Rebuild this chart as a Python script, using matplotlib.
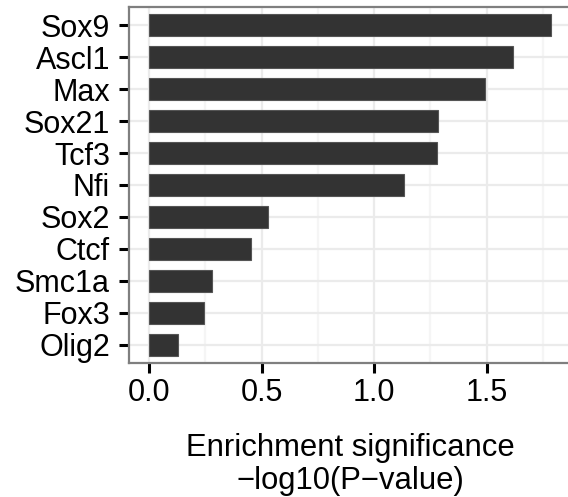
import matplotlib
matplotlib.use("Agg")
import matplotlib.pyplot as plt
import numpy as np

# motif names, top to bottom
motifs = ["Sox9", "Ascl1", "Max", "Sox21", "Tcf3", "Nfi",
          "Sox2", "Ctcf", "Smc1a", "Fox3", "Olig2"]
neg_log10_p = [1.785, 1.616, 1.492, 1.284, 1.281, 1.133,
               0.529, 0.454, 0.281, 0.245, 0.130]
x_ticks = [0.0, 0.5, 1.0, 1.5]
x_minor = [0.25, 0.75, 1.25, 1.75]

plt.rcParams["font.family"] = ["Liberation Sans", "DejaVu Sans"]

W, H = 568, 497
fig = plt.figure(figsize=(W / 100, H / 100), dpi=100)

# panel edges in pixels (right edge runs past the figure like the original)
left_px, right_px, top_px, bottom_px = 129, 571, 6.7, 363.3
ax = fig.add_axes([left_px / W, 1 - bottom_px / H,
                   (right_px - left_px) / W, (bottom_px - top_px) / H])

n = len(motifs)
ypos = np.arange(n)[::-1] + 1  # Sox9 on top

grid_major = "#EBEBEB"
grid_minor = "#F5F5F5"
for x in x_minor:
    ax.axvline(x, color=grid_minor, lw=1.6, zorder=0)
for x in x_ticks:
    ax.axvline(x, color=grid_major, lw=1.6, zorder=0)
for y in ypos:
    ax.axhline(y, color=grid_major, lw=1.6, zorder=0)

ax.barh(ypos, neg_log10_p, height=0.7, color="#333333",
        edgecolor="#555555", linewidth=0.8, zorder=2)

xmax = max(neg_log10_p)
ax.set_xlim(-0.05 * xmax, 1.05 * xmax)
ax.set_ylim(0.42, n + 0.58)

ax.set_yticks(ypos)
ax.set_yticklabels(motifs)
ax.set_xticks(x_ticks)
ax.set_xticklabels([f"{v:.1f}" for v in x_ticks])

ax.tick_params(axis="both", colors="black", labelsize=22,
               length=7.2, width=2.2, pad=6.5)
ax.tick_params(axis="x", pad=3.5)

for sp in ax.spines.values():
    sp.set_color("#7F7F7F")
    sp.set_linewidth(1.6)

ax.set_xlabel("Enrichment significance\n\u2212log10(P\u2212value)",
              fontsize=22.3, labelpad=18, linespacing=1.12)

fig.savefig("out.png", dpi=100)
